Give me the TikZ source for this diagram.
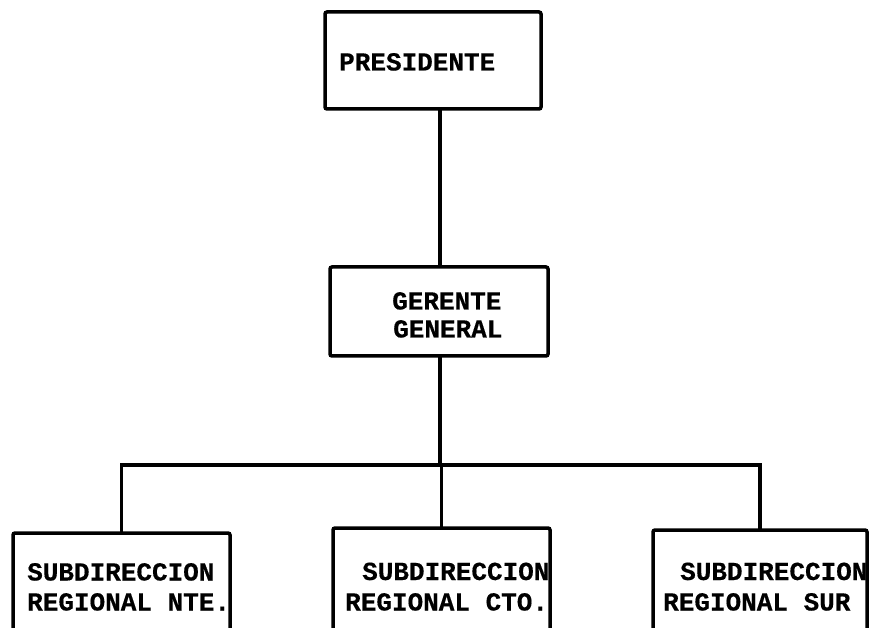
\documentclass[tikz,border=0pt]{standalone}
\usepackage{fontspec}
\setmonofont{Liberation Mono}[BoldFeatures={FakeBold=0.4}]
\begin{document}
\begin{tikzpicture}[x=1pt,y=-1pt,
  orgbox/.style={draw=black,line width=3.5pt,rectangle,rounded corners=2pt,inner sep=0pt,outer sep=0pt},
  lbl/.style={anchor=base west,inner sep=0pt,font=\fontsize{26}{30}\selectfont\ttfamily\bfseries},
  conn/.style={draw=black,line width=3.5pt}]
\useasboundingbox (0,0) rectangle (871,628);
\clip (0,0) rectangle (871,628);
% boxes
\node[orgbox,minimum width=216pt,minimum height=97pt] (pres) at (433,60.5) {};
\node[orgbox,minimum width=218pt,minimum height=89pt] (ger) at (439,311.5) {};
\node[orgbox,minimum width=217pt,minimum height=127pt] (b1) at (121.5,596.5) {};
\node[orgbox,minimum width=217pt,minimum height=132pt] (b2) at (441.5,594) {};
\node[orgbox,minimum width=214pt,minimum height=130pt] (b3) at (760,595) {};
% texts
\node[lbl] (t0) at (339,70.5) {PRESIDENTE};
\node[lbl] (t1a) at (392,309.5) {GERENTE};
\node[lbl] (t1b) at (393,337.5) {GENERAL};
\node[lbl] (t2a) at (27,580.5) {SUBDIRECCION};
\node[lbl] (t2b) at (27,610.5) {REGIONAL NTE.};
\node[lbl] (t3a) at (362,580) {SUBDIRECCION};
\node[lbl] (t3b) at (345,610.5) {REGIONAL CTO.};
\node[lbl] (t4a) at (680,580) {SUBDIRECCION};
\node[lbl] (t4b) at (663,610.5) {REGIONAL SUR};
% connectors
\coordinate (bus) at (440,465);
\draw[conn] (ger.north -| bus) -- (pres.south -| bus);
\draw[conn] (ger.south -| bus) -- (bus);
\draw[conn] (b1.north) |- (bus) -| (b3.north);
\draw[conn] (b2.north) -- (b2.north |- bus);
\end{tikzpicture}
\end{document}
